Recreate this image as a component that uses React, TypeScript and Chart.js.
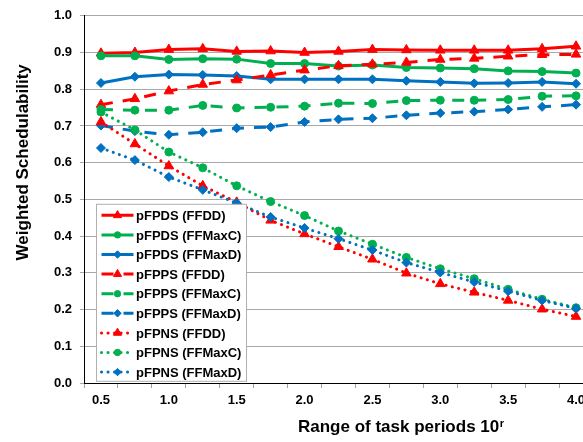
import React, { useEffect, useRef } from 'react';
import { Chart, registerables } from 'chart.js';

Chart.register(...registerables);

const categories = ['0.5', '0.75', '1.0', '1.25', '1.5', '1.75', '2.0', '2.25', '2.5', '2.75', '3.0', '3.25', '3.5', '3.75', '4.0'];
const xTickLabels = ['0.5', '', '1.0', '', '1.5', '', '2.0', '', '2.5', '', '3.0', '', '3.5', '', '4.0'];

const pFPDS_FFDD = [0.898, 0.900, 0.908, 0.910, 0.903, 0.904, 0.900, 0.903, 0.908, 0.907, 0.906, 0.906, 0.906, 0.910, 0.917];
const pFPDS_FFMaxC = [0.891, 0.891, 0.881, 0.883, 0.882, 0.870, 0.870, 0.863, 0.866, 0.859, 0.858, 0.856, 0.850, 0.848, 0.844];
const pFPDS_FFMaxD = [0.817, 0.834, 0.840, 0.839, 0.836, 0.827, 0.827, 0.827, 0.827, 0.823, 0.820, 0.816, 0.817, 0.820, 0.815];
const pFPPS_FFDD = [0.758, 0.774, 0.795, 0.813, 0.825, 0.839, 0.852, 0.864, 0.868, 0.873, 0.881, 0.884, 0.890, 0.894, 0.895];
const pFPPS_FFMaxC = [0.745, 0.743, 0.743, 0.756, 0.749, 0.751, 0.754, 0.762, 0.761, 0.769, 0.770, 0.770, 0.772, 0.781, 0.782];
const pFPPS_FFMaxD = [0.701, 0.686, 0.676, 0.683, 0.694, 0.697, 0.711, 0.718, 0.721, 0.729, 0.735, 0.739, 0.745, 0.752, 0.758];
const pFPNS_FFDD = [0.711, 0.651, 0.591, 0.537, 0.492, 0.443, 0.406, 0.371, 0.337, 0.299, 0.270, 0.247, 0.225, 0.201, 0.181];
const pFPNS_FFMaxC = [0.738, 0.689, 0.629, 0.586, 0.537, 0.494, 0.456, 0.414, 0.378, 0.342, 0.311, 0.284, 0.255, 0.228, 0.205];
const pFPNS_FFMaxD = [0.640, 0.607, 0.561, 0.526, 0.490, 0.452, 0.422, 0.393, 0.362, 0.328, 0.301, 0.275, 0.250, 0.225, 0.203];

const seriesNames = [
  'pFPDS (FFDD)', 'pFPDS (FFMaxC)', 'pFPDS (FFMaxD)',
  'pFPPS (FFDD)', 'pFPPS (FFMaxC)', 'pFPPS (FFMaxD)',
  'pFPNS (FFDD)', 'pFPNS (FFMaxC)', 'pFPNS (FFMaxD)',
];
const seriesData = [
  pFPDS_FFDD, pFPDS_FFMaxC, pFPDS_FFMaxD,
  pFPPS_FFDD, pFPPS_FFMaxC, pFPPS_FFMaxD,
  pFPNS_FFDD, pFPNS_FFMaxC, pFPNS_FFMaxD,
];

const xTitle = 'Range of task periods 10';
const xTitleSup = 'r';
const yTitle = 'Weighted Schedulability';

const RED = '#FF0000';
const GREEN = '#00B050';
const BLUE = '#0070C0';
const colors = [RED, GREEN, BLUE];
const shapes = ['triangle', 'circle', 'rectRot'];
const radii = [5.5, 4, 4.5];
const lineStyles = ['solid', 'dash', 'dot'];

const FONT = "'Liberation Sans', Arial, sans-serif";

function dashFor(style: string): number[] {
  if (style === 'dash') return [12, 10];
  if (style === 'dot') return [0.1, 6.4];
  return [];
}

function drawMarker(ctx: CanvasRenderingContext2D, shape: string, x: number, y: number, r: number, color: string) {
  ctx.save();
  ctx.setLineDash([]);
  ctx.fillStyle = color;
  ctx.strokeStyle = color;
  ctx.lineWidth = 1;
  ctx.beginPath();
  if (shape === 'triangle') {
    for (let k = 0; k < 3; k++) {
      const a = k * (2 * Math.PI / 3);
      const px = x + Math.sin(a) * r;
      const py = y - Math.cos(a) * r;
      if (k === 0) ctx.moveTo(px, py); else ctx.lineTo(px, py);
    }
    ctx.closePath();
  } else if (shape === 'circle') {
    ctx.arc(x, y, r, 0, Math.PI * 2);
  } else {
    ctx.moveTo(x - r, y);
    ctx.lineTo(x, y - r);
    ctx.lineTo(x + r, y);
    ctx.lineTo(x, y + r);
    ctx.closePath();
  }
  ctx.fill();
  ctx.stroke();
  ctx.restore();
}

const decorPlugin = {
  id: 'decor',
  afterDatasetsDraw(chart: any) {
    const ctx: CanvasRenderingContext2D = chart.ctx;
    const area = chart.chartArea;
    const bx = area.left + 12.5;
    const by = area.top + 188.5;
    const bw = 150;
    const bh = 177;
    ctx.save();
    ctx.fillStyle = '#ffffff';
    ctx.fillRect(bx, by, bw, bh);
    ctx.strokeStyle = '#b0b0b0';
    ctx.lineWidth = 1;
    ctx.strokeRect(bx, by, bw, bh);
    seriesNames.forEach((name, i) => {
      const cy = by + 11 + i * 19.6;
      const color = colors[i % 3];
      const style = lineStyles[Math.floor(i / 3)];
      ctx.save();
      ctx.strokeStyle = color;
      ctx.lineWidth = 3;
      ctx.setLineDash(dashFor(style));
      ctx.lineCap = style === 'dot' ? 'round' : 'butt';
      ctx.beginPath();
      ctx.moveTo(bx + 5, cy);
      ctx.lineTo(bx + 37, cy);
      ctx.stroke();
      ctx.restore();
      drawMarker(ctx, shapes[i % 3], bx + 21, cy, radii[i % 3] - 0.8, color);
      ctx.fillStyle = '#000';
      ctx.font = `bold 13px ${FONT}`;
      ctx.textAlign = 'left';
      ctx.textBaseline = 'alphabetic';
      ctx.fillText(name, bx + 39.5, cy + 4.6);
    });
    ctx.restore();
  },
  afterDraw(chart: any) {
    const ctx: CanvasRenderingContext2D = chart.ctx;
    const area = chart.chartArea;
    ctx.save();
    ctx.fillStyle = '#000';
    ctx.font = `bold 17px ${FONT}`;
    ctx.textAlign = 'left';
    ctx.textBaseline = 'alphabetic';
    const tx = area.left + 214;
    const ty = area.bottom + 49;
    ctx.fillText(xTitle, tx, ty);
    const w = ctx.measureText(xTitle).width;
    ctx.font = `bold 11px ${FONT}`;
    ctx.fillText(xTitleSup, tx + w + 0.5, ty - 5);

    ctx.translate(28, area.top + 146.5);
    ctx.rotate(-Math.PI / 2);
    ctx.font = `bold 17px ${FONT}`;
    ctx.textAlign = 'center';
    ctx.fillText(yTitle, 0, 0);
    ctx.restore();
  },
};

export default function App() {
  const canvasRef = useRef<HTMLCanvasElement | null>(null);

  useEffect(() => {
    const canvas = canvasRef.current;
    if (!canvas) return;
    const datasets = seriesData.map((data, i) => {
      const color = colors[i % 3];
      const style = lineStyles[Math.floor(i / 3)];
      return {
        label: seriesNames[i],
        data,
        borderColor: color,
        backgroundColor: color,
        borderWidth: 3,
        borderDash: dashFor(style),
        borderCapStyle: style === 'dot' ? 'round' : 'butt',
        pointStyle: shapes[i % 3],
        pointRadius: radii[i % 3],
        pointBorderWidth: 1,
        pointBackgroundColor: color,
        pointBorderColor: color,
        tension: 0,
        fill: false,
        order: seriesNames.length - i,
      };
    });
    const tickFont = { family: FONT, size: 13, weight: 'bold' as const };
    const chart = new Chart(canvas, {
      type: 'line',
      data: { labels: categories, datasets: datasets as any },
      options: {
        animation: false,
        responsive: false,
        devicePixelRatio: 1,
        layout: { padding: { top: 11, right: 17, left: 0, bottom: 0 } },
        plugins: { legend: { display: false }, tooltip: { enabled: false } },
        scales: {
          x: {
            type: 'category',
            offset: true,
            grid: { offset: true, drawOnChartArea: false, drawTicks: true, tickLength: 5, color: '#a0a0a0', lineWidth: 1 },
            border: { color: '#000000', width: 1 },
            ticks: {
              autoSkip: false,
              maxRotation: 0,
              minRotation: 0,
              padding: 5,
              color: '#000000',
              font: tickFont,
              callback: (_v: any, i: number) => xTickLabels[i],
            },
            afterFit: (s: any) => { s.height = 59; },
          },
          y: {
            min: 0,
            max: 1,
            ticks: {
              stepSize: 0.1,
              padding: 8,
              color: '#000000',
              font: tickFont,
              callback: (v: any) => Number(v).toFixed(1),
            },
            grid: { color: '#a8a8a8', tickLength: 4, lineWidth: 1 },
            border: { color: '#000000', width: 1 },
            afterFit: (s: any) => { s.width = 84; },
          },
        },
      } as any,
      plugins: [decorPlugin],
    });
    return () => chart.destroy();
  }, []);

  return (
    <div style={{ position: 'absolute', left: 0, top: 0, width: 583, height: 442, overflow: 'hidden', background: '#fff' }}>
      <canvas ref={canvasRef} width={610} height={442} style={{ display: 'block', width: 610, height: 442 }} />
    </div>
  );
}
